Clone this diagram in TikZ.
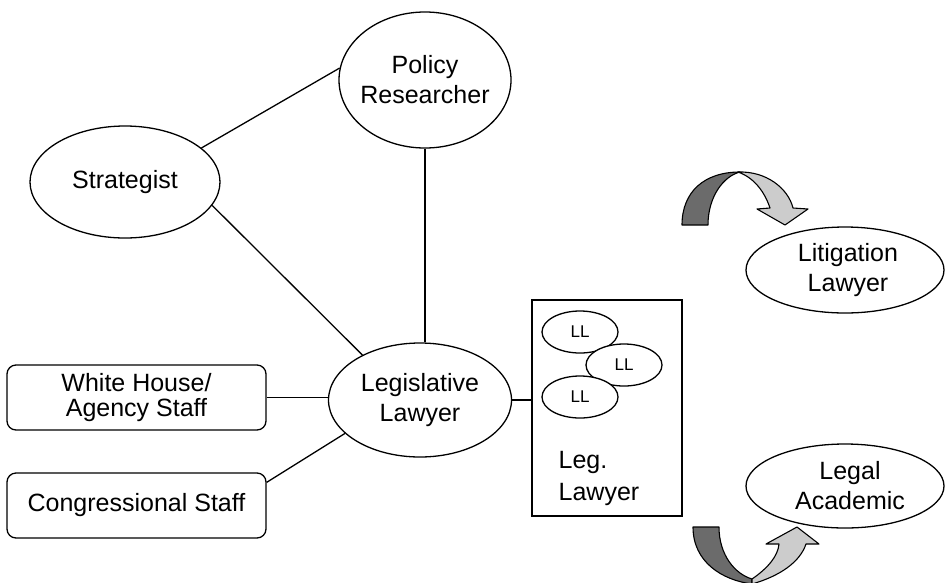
\documentclass[tikz,border=0pt]{standalone}
\usepackage{fontspec}
\setmainfont{Liberation Sans}
\usetikzlibrary{shapes.geometric}
\begin{document}
\begin{tikzpicture}[x=1pt,y=-1pt,
  every node/.style={line width=1.3pt},
  ell/.style n args={2}{draw, ellipse, fill=white, inner sep=0pt, minimum width=#1pt, minimum height=#2pt},
  txt/.style={font=\fontsize{25}{30}\selectfont, align=center, inner sep=0pt},
  staff/.style={draw, rounded corners=9pt, inner sep=0pt, minimum width=259pt, minimum height=65pt, font=\fontsize{25}{25}\selectfont, align=center},
  ll/.style={draw, ellipse, fill=white, inner sep=0pt, minimum width=76pt, minimum height=42pt, font=\fontsize{17}{17}\selectfont},
  conn/.style={line width=1.3pt},
  darkband/.style={fill=black!58, draw=black, line width=1.1pt, line join=round},
  lightband/.style={fill=black!20, draw=black, line width=1.1pt, line join=round}]

\useasboundingbox (0,0) rectangle (945,582);

% nodes
\node[ell={172}{136}, label={[txt]center:Policy\\Researcher}] (pol) at (425,80) {};
\node[ell={190}{112}, label={[txt]center:Strategist}] (strat) at (125,182) {};
\node[ell={183}{114}, label={[txt]center:Legislative\\Lawyer}] (leg) at (420,400) {};
\node[staff] (wh) at (136.5,397.5) {White House/\\Agency Staff};
\node[staff] (cong) at (136.5,505.5) {Congressional Staff};
\node[draw, minimum width=150pt, minimum height=216pt, inner sep=0pt] (llbox) at (607,408) {};
\node[txt, align=left, anchor=west, font=\fontsize{25}{32}\selectfont] (llt) at (558,478) {Leg.\\Lawyer};
\node[ll] (ll1) at (580,332) {LL};
\node[ll] (ll2) at (624,365) {LL};
\node[ll] (ll3) at (580,397) {LL};
\node[ell={198}{86}, label={[txt,xshift=3pt]center:Litigation\\Lawyer}] (lit) at (845,270) {};
\node[ell={198}{84}, label={[txt,xshift=5pt]center:Legal\\Academic}] (acad) at (845,486) {};

% connectors
\draw[conn] (strat.24) -- (pol.172);
\draw[conn] (strat.345) -- (leg.142);
\draw[conn] (pol.south) -- (pol.south |- leg.north);
\draw[conn] (wh.east) -- (wh.east -| leg.west);
\draw[conn] ([yshift=-10pt]cong.north east) -- (leg.204);
\draw[conn] (leg.east) -- (leg.east -| llbox.west);

% curved arrows (top)
\path[darkband] (682,225) .. controls (682,192) and (704,172) .. (740,172)
   .. controls (724,176) and (708,196) .. (708,225) -- cycle;
\path[lightband] (738,172) .. controls (766,171) and (788,188) .. (793,208)
   -- (808,209) -- (785,225) -- (757,209) -- (770,208)
   .. controls (765,193) and (755,178) .. (738,172) -- cycle;
% curved arrows (bottom)
\path[darkband] (693,527) -- (719,527) .. controls (719,555) and (735,574) .. (752,579)
   -- (752,584) .. controls (722,580) and (693,562) .. (693,527) -- cycle;
\path[lightband] (752,579) .. controls (768,568) and (778,556) .. (779,544)
   -- (766,544) -- (797,527) -- (819,544) -- (806,544)
   .. controls (800,562) and (780,576) .. (752,584) -- cycle;
\end{tikzpicture}
\end{document}
